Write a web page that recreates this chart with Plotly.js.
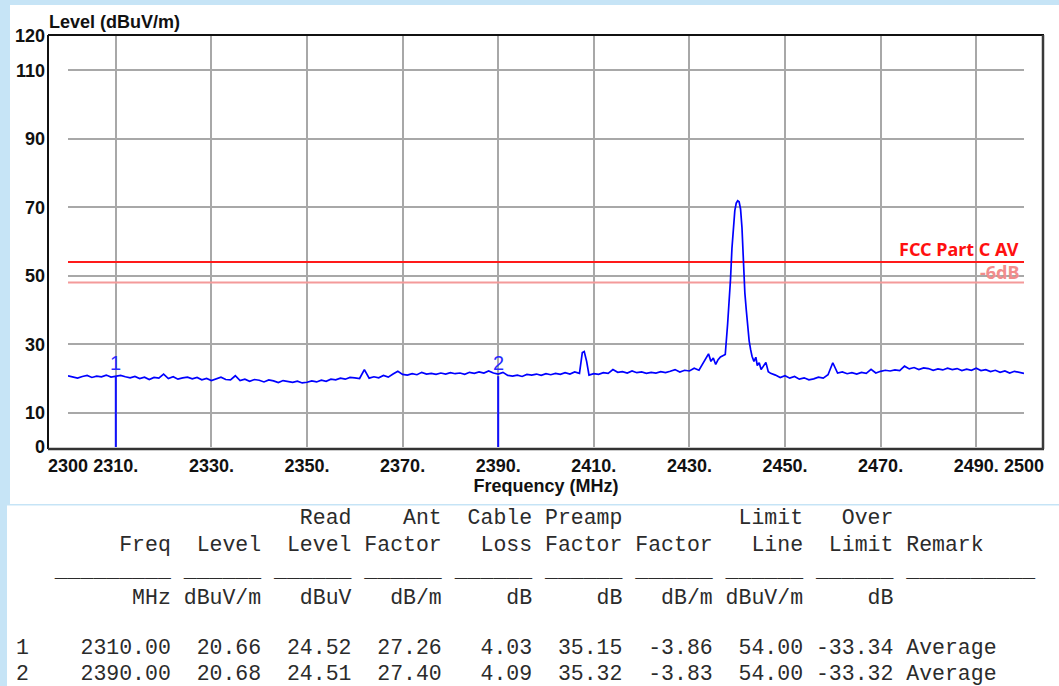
<!DOCTYPE html>
<html>
<head>
<meta charset="utf-8">
<script src="https://cdn.plot.ly/plotly-3.0.1.min.js"></script>
<style>
html,body{margin:0;padding:0;background:#c6e4f6;}
#chart{width:1059px;height:686px;}
</style>
</head>
<body>
<div id="chart"></div>
<script>
// ---------------- data ----------------
const freq = [
2300,2301,2302,2303,2304,2305,2306,2307,2308,2309,
2310,2311,2312,2313,2314,2315,2316,2317,2318,2319,
2320,2321,2322,2323,2324,2325,2326,2327,2328,2329,
2330,2331,2332,2333,2334,2335,2336,2337,2338,2339,
2340,2341,2342,2343,2344,2345,2346,2347,2348,2349,
2350,2351,2352,2353,2354,2355,2356,2357,2358,2359,
2360,2361,2362,2363,2364,2365,2366,2367,2368,2369,
2370,2371,2372,2373,2374,2375,2376,2377,2378,2379,
2380,2381,2382,2383,2384,2385,2386,2387,2388,2389,
2390,2391,2392,2393,2394,2395,2396,2397,2398,2399,
2400,2401,2402,2403,2404,2405,2406,2407,2407.6,2408,2408.5,
2409,2410,2411,2412,2413,2414,2415,2416,2417,2418,2419,
2420,2421,2422,2423,2424,2425,2426,2427,2428,2429,
2430,2431,2432,2433,2434,2434.5,2435,2435.5,2436,2436.5,2437,2437.5,
2438,2438.3,2438.6,2438.9,2439.2,2439.5,2439.8,2440.1,2440.4,2440.7,
2441.0,2441.3,2441.6,2441.9,2442.2,2442.5,2442.8,2443.1,2443.5,2443.9,
2444.2,2444.6,2445,2445.5,2446,2446.5,
2447,2448,2449,2450,2451,2452,2453,2454,2455,2456,2457,2458,2459,
2460,2461,2462,2463,2464,2465,2466,2467,2468,2469,
2470,2471,2472,2473,2474,2475,2476,2477,2478,2479,
2480,2481,2482,2483,2484,2485,2486,2487,2488,2489,
2490,2491,2492,2493,2494,2495,2496,2497,2498,2499,2500
];
const level = [
20.8,20.4,20.1,20.6,20.9,20.3,20.7,20.5,21.0,20.4,
20.7,20.9,20.5,20.2,20.6,20.0,20.4,19.7,20.3,20.1,
21.3,20.0,20.5,19.8,20.2,20.4,19.9,20.3,19.6,20.0,
19.4,19.9,20.4,19.7,19.6,20.8,19.4,19.8,19.2,19.7,
19.5,19.0,19.6,19.3,18.8,19.4,19.1,18.9,19.2,18.7,
18.9,19.3,19.0,19.5,19.2,19.8,19.6,20.1,19.8,20.3,
20.2,20.0,22.6,20.1,20.5,20.2,20.9,20.4,21.3,22.1,
21.2,21.0,21.4,21.1,21.8,21.3,21.5,21.2,21.6,21.3,
21.7,21.4,21.6,21.2,21.8,21.5,21.9,21.6,22.2,21.6,
21.3,21.8,20.9,20.7,21.0,20.6,21.2,21.0,21.3,20.9,
21.4,21.1,21.5,21.2,21.7,21.3,21.9,21.5,27.6,27.9,25.0,
21.0,21.4,21.2,21.7,21.5,22.6,21.8,22.0,21.6,22.2,21.7,
21.9,21.5,21.8,21.6,22.0,21.7,22.1,22.6,21.9,22.4,
22.2,23.0,22.4,24.6,27.2,25.0,26.0,24.1,25.5,26.3,26.6,27.0,
36.0,42.0,49.0,58.0,64.0,69.0,71.2,71.9,71.6,69.5,
64.0,54.0,45.0,40.0,35.0,31.0,28.5,26.5,25.0,26.2,
23.8,24.6,22.6,23.5,24.7,22.0,
21.5,21.0,20.3,20.8,20.1,20.6,19.8,20.2,19.6,19.9,20.4,20.1,21.1,
24.6,21.6,21.9,21.4,21.7,21.3,21.8,21.5,22.7,21.6,
22.1,22.4,22.2,22.5,22.3,23.6,22.8,23.2,22.6,23.1,
22.9,22.4,22.8,22.5,23.0,22.6,22.9,22.3,22.7,22.4,
23.0,22.3,22.6,22.0,22.4,21.8,22.2,21.6,22.1,21.8,21.5
];

const limitFreq = [2300, 2500];
const limitAV = 54;
const limitAV6 = 48;
const limitName = 'FCC Part C AV';
const limit6Name = '-6dB';

const xTickVals = [2300,2310,2330,2350,2370,2390,2410,2430,2450,2470,2490,2500];
const xTickText = ['2300','2310.','2330.','2350.','2370.','2390.','2410.','2430.','2450.','2470.','2490.','2500'];
const yTickVals = [0,10,30,50,70,90,110,120];
const yTickText = ['0','10','30','50','70','90','110','120'];

// marker table
const markerNo     = ['1','2'];
const markerFreq   = [2310.00, 2390.00];
const markerLevel  = [20.66, 20.68];
const readLevel    = [24.52, 24.51];
const antFactor    = [27.26, 27.40];
const cableLoss    = [4.03, 4.09];
const preampFactor = [35.15, 35.32];
const corrFactor   = [-3.86, -3.83];
const limitLine    = [54.00, 54.00];
const overLimit    = [-33.34, -33.32];
const remark       = ['Average','Average'];

const head1 = ['', '', '', 'Read', 'Ant', 'Cable', 'Preamp', '', 'Limit', 'Over', ''];
const head2 = ['', 'Freq', 'Level', 'Level', 'Factor', 'Loss', 'Factor', 'Factor', 'Line', 'Limit', 'Remark'];
const units = ['', 'MHz', 'dBuV/m', 'dBuV', 'dB/m', 'dB', 'dB', 'dB/m', 'dBuV/m', 'dB', ''];

// ---------------- geometry helpers ----------------
const W = 1059, H = 686;
const L = 68, R = 1024, T = 36, B = 447;
const pw = R - L, ph = B - T;
const px = x => (x - L) / pw;
const py = y => (B - y) / ph;
const NB = '\u00A0';

function buildLine(cells) {
  let s = cells[0].padEnd(5, ' ');
  for (let i = 1; i <= 9; i++) s += String(cells[i]).padStart(7, ' ');
  s += ' ' + cells[10];
  return s.replace(/\s+$/, '').replace(/ /g, NB);
}
const underline = ('   ' + '_'.repeat(9) + (' ' + '_'.repeat(6)).repeat(8) + ' ' + '_'.repeat(10)).replace(/ /g, NB);

const rowLines = markerNo.map((n, i) => buildLine([
  n, markerFreq[i].toFixed(2), markerLevel[i].toFixed(2), readLevel[i].toFixed(2),
  antFactor[i].toFixed(2), cableLoss[i].toFixed(2), preampFactor[i].toFixed(2),
  corrFactor[i].toFixed(2), limitLine[i].toFixed(2), overLimit[i].toFixed(2), remark[i]
]));

const monoFont = {family: 'Liberation Mono, Courier New, monospace', size: 21.5, color: '#2b2b2b'};
const tableLines = [
  {t: buildLine(head1), y: 518},
  {t: buildLine(head2), y: 545},
  {t: underline, y: 571},
  {t: buildLine(units), y: 598},
  {t: rowLines[0], y: 648},
  {t: rowLines[1], y: 674}
];

const annotations = tableLines.map(l => ({
  xref: 'paper', yref: 'paper', x: px(14), y: py(l.y), xanchor: 'left', yanchor: 'middle',
  text: l.t, showarrow: false, font: monoFont, align: 'left'
}));

annotations.push({
  xref: 'paper', yref: 'paper', x: px(47), y: py(22), xanchor: 'left', yanchor: 'middle',
  text: 'Level (dBuV/m)', showarrow: false,
  font: {family: 'Liberation Sans, Arial, sans-serif', size: 18, weight: 'bold', color: '#111'}
});
annotations.push({
  xref: 'paper', yref: 'y', x: px(1021), y: limitAV, xanchor: 'right', yanchor: 'bottom', yshift: -1,
  text: limitName, showarrow: false,
  font: {family: 'Noto Sans, sans-serif', size: 18, weight: 'bold', color: '#ff1010'}
});
annotations.push({
  xref: 'paper', yref: 'y', x: px(1021), y: limitAV6, xanchor: 'right', yanchor: 'bottom', yshift: -3,
  text: limit6Name, showarrow: false,
  font: {family: 'Noto Sans, sans-serif', size: 18, weight: 'bold', color: '#f28c8c'}
});
markerNo.forEach((n, i) => {
  annotations.push({
    xref: 'x', yref: 'y', x: markerFreq[i], y: markerLevel[i], xanchor: 'center', yanchor: 'middle', yshift: 13,
    text: n, showarrow: false,
    font: {family: 'Liberation Sans, Arial, sans-serif', size: 20, color: '#2a2aff'}
  });
});

const shapes = [
  // white panels
  {type: 'rect', xref: 'paper', yref: 'paper', x0: px(10), x1: px(1060), y0: py(504), y1: py(5),
   fillcolor: '#ffffff', line: {width: 0}, layer: 'below'},
  {type: 'rect', xref: 'paper', yref: 'paper', x0: px(7), x1: px(1060), y0: py(687), y1: py(505.5),
   fillcolor: '#ffffff', line: {width: 0}, layer: 'below'},
  // frame
  {type: 'line', xref: 'paper', yref: 'paper', x0: px(48), x1: px(1044), y0: py(35), y1: py(35), line: {color: '#111', width: 2}},
  {type: 'line', xref: 'paper', yref: 'paper', x0: px(48), x1: px(48), y0: py(35), y1: py(449), line: {color: '#111', width: 2}},
  {type: 'line', xref: 'paper', yref: 'paper', x0: px(48), x1: px(1044), y0: py(449), y1: py(449), line: {color: '#333', width: 2.5}},
  {type: 'line', xref: 'paper', yref: 'paper', x0: px(1043), x1: px(1043), y0: py(35), y1: py(449), line: {color: '#3a3a3a', width: 2.5}}
];

const traces = [
  {x: limitFreq, y: [limitAV, limitAV], mode: 'lines', line: {color: '#ff1a1a', width: 2}, hoverinfo: 'skip'},
  {x: limitFreq, y: [limitAV6, limitAV6], mode: 'lines', line: {color: '#f49a9a', width: 2}, hoverinfo: 'skip'},
  {x: freq, y: level, mode: 'lines', line: {color: '#0000ff', width: 1.7}}
];
markerNo.forEach((n, i) => {
  traces.push({x: [markerFreq[i], markerFreq[i]], y: [0, markerLevel[i]], mode: 'lines',
    line: {color: '#1010ff', width: 2}});
});

const tickFont = {family: 'Liberation Sans, Arial, sans-serif', size: 18, weight: 'bold', color: '#111'};
const layout = {
  width: W, height: H,
  margin: {l: L, r: W - R, t: T, b: H - B, pad: 0},
  paper_bgcolor: '#c6e4f6',
  plot_bgcolor: '#ffffff',
  showlegend: false,
  xaxis: {
    range: [2300, 2500], tickmode: 'array', tickvals: xTickVals, ticktext: xTickText,
    showgrid: true, gridcolor: '#a8a8a8', gridwidth: 2, zeroline: false, showline: false,
    ticks: '', ticklabelstandoff: 6, tickfont: tickFont,
    title: {text: 'Frequency (MHz)', font: tickFont, standoff: 0}
  },
  yaxis: {
    range: [0, 120], tickmode: 'array', tickvals: yTickVals, ticktext: yTickText,
    showgrid: true, gridcolor: '#a8a8a8', gridwidth: 2, zeroline: false, showline: false,
    ticks: '', ticklabelstandoff: 22, tickfont: tickFont
  },
  shapes: shapes,
  annotations: annotations
};

Plotly.newPlot('chart', traces, layout, {displayModeBar: false, staticPlot: true});
</script>
</body>
</html>
